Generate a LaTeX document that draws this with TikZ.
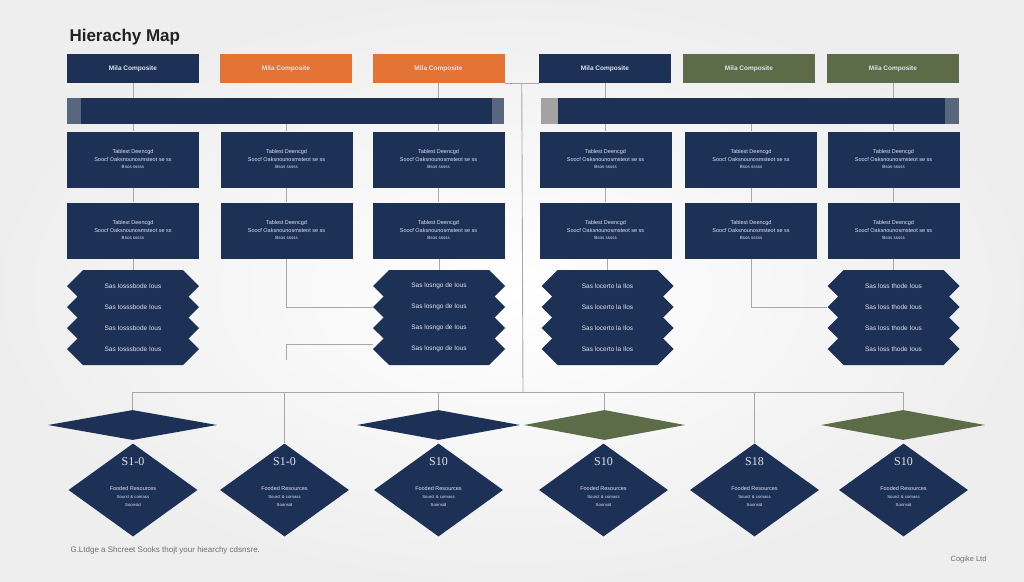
\documentclass[tikz,border=0pt]{standalone}
\usepackage{fontspec}
\setmainfont{Liberation Sans}
\newfontfamily\numfont{Liberation Serif}
\usetikzlibrary{shapes.geometric,shapes.symbols}

\definecolor{hnavy}{RGB}{29,49,87}
\definecolor{horange}{RGB}{228,116,54}
\definecolor{hgreen}{RGB}{92,107,72}
\definecolor{hslate}{RGB}{88,102,126}
\definecolor{hgray}{RGB}{163,163,163}
\definecolor{hline}{RGB}{168,168,168}
\definecolor{htext}{RGB}{222,228,238}
\definecolor{htitle}{RGB}{34,34,38}
\definecolor{hfoot}{RGB}{110,110,115}

\begin{document}
\begin{tikzpicture}[x=1pt,y=-1pt]
	\tikzstyle{box}=[rectangle, inner sep=0pt, minimum width=132pt, text=htext]
	\tikzstyle{tb}=[box, minimum height=29pt, font=\bfseries\fontsize{6.5}{8}\selectfont]
	\tikzstyle{rb}=[box, fill=hnavy, minimum height=56pt, align=center, font=\fontsize{5.5}{7.5}\selectfont]
	\tikzstyle{bar}=[rectangle, fill=hnavy, inner sep=0pt, minimum height=26pt]
	\tikzstyle{hx}=[signal, signal to=west and east, signal pointer angle=90, fill=hnavy, inner sep=0pt, minimum width=132pt, minimum height=32pt, text=htext, font=\fontsize{6.5}{8}\selectfont]
	\tikzstyle{fd}=[diamond, inner sep=0pt, minimum height=30pt]
	\tikzstyle{bd}=[diamond, fill=hnavy, inner sep=0pt, minimum width=129pt, minimum height=93pt]
	\tikzstyle{dt}=[text=htext, inner sep=0pt, font=\numfont\fontsize{12}{13}\selectfont]
	\tikzstyle{dl}=[text=htext, inner sep=0pt, align=center, font=\fontsize{5.5}{7}\selectfont]
	\tikzstyle{dm}=[text=htext, inner sep=0pt, align=center, font=\fontsize{4.3}{8}\selectfont]
	\tikzstyle{ln}=[draw=hline, line width=0.9pt]

	\useasboundingbox (0,0) rectangle (1024,581);
	\shade[inner color=white, outer color=gray!13] (0,0) rectangle (1024,581);

	\node[anchor=base west, text=htitle, font=\bfseries\fontsize{17}{20}\selectfont] (title) at (66,41) {Hierachy Map};

	% top row
	\node[tb, fill=hnavy] (t1) at (133,68.5) {Mila Composite};
	\node[tb, fill=horange] (t2) at (286,68.5) {Mila Composite};
	\node[tb, fill=horange] (t3) at (438.5,68.5) {Mila Composite};
	\node[tb, fill=hnavy] (t4) at (605,68.5) {Mila Composite};
	\node[tb, fill=hgreen] (t5) at (749,68.5) {Mila Composite};
	\node[tb, fill=hgreen] (t6) at (893,68.5) {Mila Composite};

	% bars
	\node[bar, minimum width=437pt] (bar1) at (285.5,111) {};
	\node[bar, minimum width=418pt] (bar2) at (750,111) {};
	\fill[hslate] (bar1.north west) rectangle ([xshift=14pt]bar1.south west);
	\fill[hslate] ([xshift=-12pt]bar1.north east) rectangle (bar1.south east);
	\fill[hgray] (bar2.north west) rectangle ([xshift=17pt]bar2.south west);
	\fill[hslate] ([xshift=-14pt]bar2.north east) rectangle (bar2.south east);

	% two rows of boxes
	\foreach \i/\x in {1/133,2/286.5,3/438.5,4/605.5,5/751,6/893.5} {
		\node[rb] (r\i) at (\x,159.5) {Tablest Deencgd\\Soocf Oaksnounosmsteot se ss\\{\fontsize{4.5}{6}\selectfont Bsos sssss}};
		\node[rb] (s\i) at (\x,230.5) {Tablest Deencgd\\Soocf Oaksnounosmsteot se ss\\{\fontsize{4.5}{6}\selectfont Bsos sssss}};
	}

	% hexagon stacks
	\foreach \c/\x/\txt in {1/133/Sas Iosssbode Ious,3/439/Sas losngo de Ious,4/607.5/Sas locerto la Ilos,6/893.5/Sas loss thode Ious}
		\foreach \k/\y in {1/286,2/307,3/328,4/349}
			\node[hx] (h\c\k) at (\x,\y) {\txt};

	% diamonds
	\node[fd, fill=hnavy, minimum width=169pt] (f1) at (132.5,425) {};
	\node[fd, fill=hnavy, minimum width=163pt] (f2) at (438.5,425) {};
	\node[fd, fill=hgreen, minimum width=161pt] (f3) at (604.5,425) {};
	\node[fd, fill=hgreen, minimum width=164pt] (f4) at (903,425) {};
	\foreach \i/\x/\s in {1/133/S1-0,2/284.5/S1-0,3/438.5/S10,4/603.5/S10,5/754.5/S18,6/903.5/S10} {
		\node[bd] (d\i) at (\x,490) {};
		\node[dt] (dt\i) at (\x,462) {\s};
		\node[dl] (dl\i) at (\x,489) {Fooded Resources};
		\node[dm] (dm\i) at (\x,501) {Sourct \& comass\\Soonsid};
	}

	\node[anchor=base west, text=hfoot, font=\fontsize{8}{9}\selectfont] (foot) at (67,552) {G.Ltdge a Shcreet Sooks thojt your hiearchy cdsnsre.};
	\node[anchor=base east, text=hfoot, font=\fontsize{7.5}{8}\selectfont] (brand) at (990,561) {Cogike Ltd};

	% connectors
	\foreach \from/\to in {t1/bar1,t3/bar1,t4/bar2,t6/bar2}
		\draw[ln] (\from.south) -- (\from.south |- \to.north);
	\foreach \i/\b in {1/bar1,2/bar1,3/bar1,4/bar2,5/bar2,6/bar2}
		\draw[ln] (r\i.north |- \b.south) -- (r\i.north);
	\foreach \i in {1,...,6}
		\draw[ln] (r\i.south) -- (s\i.north);
	\foreach \i in {1,3,4,6}
		\draw[ln] (h\i1.north |- s\i.south) -- (h\i1.north);
	\draw[ln] (s2.south) |- (h32.west);
	\draw[ln] (s5.south) |- (h62.west);
	\coordinate (stub) at (286.5,360);
	\draw[ln] (stub) |- ([yshift=5pt]h34.west);

	\draw[ln] (t3.south east) -- (t4.south west) coordinate[midway] (spine);
	\coordinate (bus) at (523,392);
	\draw[ln] (spine) -- (bus);
	\draw[ln] (f1.north) -- (f1.north |- bus) -| (f4.north);
	\foreach \n in {d2,f2,f3,d5}
		\draw[ln] (\n.north |- bus) -- (\n.north);
\end{tikzpicture}
\end{document}
